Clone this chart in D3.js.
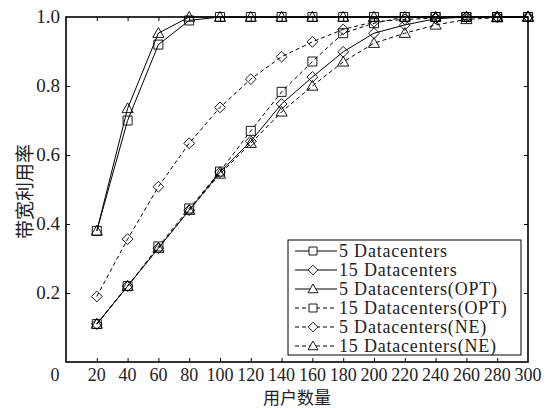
<!DOCTYPE html>
<html>
<head>
<meta charset="utf-8">
<script src="https://cdn.jsdelivr.net/npm/d3@7/dist/d3.min.js"></script>
<style>
  html, body { margin: 0; padding: 0; background: #fff; }
  svg { display: block; }
  .serif { font-family: "Liberation Serif", "Times New Roman", "DejaVu Serif", serif; }
  .cjk { font-family: "Noto Sans CJK SC", "Noto Sans CJK JP", sans-serif; }
</style>
</head>
<body>
<div id="chart"></div>
<script>
// Number of users on the x axis
const users = [20, 40, 60, 80, 100, 120, 140, 160, 180, 200, 220, 240, 260, 280, 300];

// Bandwidth utilisation per configuration
const dc5      = [0.38, 0.70, 0.92, 0.99, 1, 1, 1, 1, 1, 1, 1, 1, 1, 1, 1];
const dc15     = [0.11, 0.22, 0.33, 0.44, 0.55, 0.64, 0.748, 0.826, 0.899, 0.953, 0.977, 0.995, 1, 1, 1];
const dc5Opt   = [0.38, 0.735, 0.953, 1, 1, 1, 1, 1, 1, 1, 1, 1, 1, 1, 1];
const dc15Opt  = [0.11, 0.22, 0.335, 0.445, 0.552, 0.67, 0.783, 0.871, 0.953, 0.982, 1, 1, 1, 1, 1];
const dc5Ne    = [0.19, 0.356, 0.508, 0.634, 0.738, 0.82, 0.885, 0.928, 0.964, 0.986, 0.993, 0.997, 1, 1, 1];
const dc15Ne   = [0.11, 0.22, 0.33, 0.44, 0.545, 0.634, 0.725, 0.80, 0.87, 0.924, 0.953, 0.977, 0.993, 0.998, 1];

const seriesNames = ["5 Datacenters", "15 Datacenters", "5 Datacenters(OPT)",
                     "15 Datacenters(OPT)", "5 Datacenters(NE)", "15 Datacenters(NE)"];
const seriesValues = [dc5, dc15, dc5Opt, dc15Opt, dc5Ne, dc15Ne];
const seriesMarkers = ["square", "diamond", "triangle", "square", "diamond", "triangle"];
const seriesDashed = [false, false, false, true, true, true];

const xTicks = [0, 20, 40, 60, 80, 100, 120, 140, 160, 180, 200, 220, 240, 260, 280, 300];
const yTicks = [0.2, 0.4, 0.6, 0.8, 1.0];

const W = 554, H = 408;
const m = { left: 66, right: 26, top: 17, bottom: 46 };
const pw = W - m.left - m.right, ph = H - m.top - m.bottom;

const svg = d3.select("#chart").append("svg").attr("width", W).attr("height", H);
const g = svg.append("g").attr("transform", `translate(${m.left},${m.top})`);

const x = d3.scaleLinear().domain([0, 300]).range([0, pw]);
const y = d3.scaleLinear().domain([0, 1]).range([ph, 0]);

// Marker path generators centred on 0,0
function markerPath(type, s) {
  if (type === "square") {
    const h = s / 2;
    return `M${-h},${-h}H${h}V${h}H${-h}Z`;
  }
  if (type === "diamond") {
    const h = s * 0.6;
    return `M0,${-h}L${h},0L0,${h}L${-h},0Z`;
  }
  const h = s * 0.62;
  return `M0,${-h}L${h},${h * 0.75}L${-h},${h * 0.75}Z`;
}

// Lines and markers
const line = d3.line().x((d, i) => x(users[i])).y(d => y(d));
seriesValues.forEach((vals, k) => {
  g.append("path")
    .attr("d", line(vals))
    .attr("fill", "none")
    .attr("stroke", "#000")
    .attr("stroke-width", 1)
    .attr("stroke-dasharray", seriesDashed[k] ? "4,3" : null);
  g.selectAll(null).data(vals).enter().append("path")
    .attr("transform", (d, i) => `translate(${x(users[i])},${y(d)})`)
    .attr("d", markerPath(seriesMarkers[k], 9))
    .attr("fill", "none")
    .attr("stroke", "#000")
    .attr("stroke-width", 0.9);
});

// Axes frame with inward ticks on all four sides
const tickLen = 4;
const xInner = xTicks.filter(t => t > 0 && t < 300);
const yInner = yTicks.filter(t => t < 1);

const xBottom = d3.axisBottom(x).tickValues(xInner).tickSize(-tickLen).tickFormat("");
const xTop = d3.axisTop(x).tickValues(xInner).tickSize(-tickLen).tickFormat("");
const yLeft = d3.axisLeft(y).tickValues(yInner).tickSize(-tickLen).tickFormat("");
const yRight = d3.axisRight(y).tickValues(yInner).tickSize(-tickLen).tickFormat("");

g.append("g").attr("transform", `translate(0,${ph})`).call(xBottom);
g.append("g").call(xTop);
g.append("g").call(yLeft);
g.append("g").attr("transform", `translate(${pw},0)`).call(yRight);
g.selectAll(".domain").remove();
g.selectAll(".tick line").attr("stroke", "#000").attr("stroke-width", 1);

g.append("rect").attr("x", 0).attr("y", 0).attr("width", pw).attr("height", ph)
  .attr("fill", "none").attr("stroke", "#000").attr("stroke-width", 1.6);

// Tick labels
g.selectAll(".xl").data(xTicks).enter().append("text")
  .attr("class", "serif")
  .attr("x", d => d === 0 ? x(d) - 11 : x(d))
  .attr("y", ph + 19)
  .attr("text-anchor", "middle")
  .attr("font-size", 18)
  .attr("fill", "#222")
  .text(d => d);

g.selectAll(".yl").data(yTicks).enter().append("text")
  .attr("class", "serif")
  .attr("x", -6)
  .attr("y", d => y(d) + 6)
  .attr("text-anchor", "end")
  .attr("font-size", 19)
  .attr("fill", "#222")
  .text(d => d.toFixed(1));

// Axis titles
svg.append("text")
  .attr("class", "cjk")
  .attr("x", m.left + pw / 2)
  .attr("y", 404)
  .attr("text-anchor", "middle")
  .attr("font-size", 17)
  .attr("fill", "#222")
  .text("用户数量");

svg.append("text")
  .attr("class", "cjk")
  .attr("transform", `translate(32,${m.top + ph / 2 + 2}) rotate(-90)`)
  .attr("text-anchor", "middle")
  .attr("font-size", 19)
  .attr("fill", "#222")
  .text("带宽利用率");

// Legend
const lg = svg.append("g").attr("transform", "translate(288,240)");
lg.append("rect").attr("width", 233).attr("height", 115)
  .attr("fill", "#fff").attr("stroke", "#000").attr("stroke-width", 1);
seriesNames.forEach((name, k) => {
  const cy = 11 + k * 19;
  lg.append("line").attr("x1", 7).attr("x2", 49).attr("y1", cy).attr("y2", cy)
    .attr("stroke", "#000").attr("stroke-width", 1)
    .attr("stroke-dasharray", seriesDashed[k] ? "4,3" : null);
  lg.append("path")
    .attr("transform", `translate(25,${cy})`)
    .attr("d", markerPath(seriesMarkers[k], 8))
    .attr("fill", "#fff").attr("stroke", "#000").attr("stroke-width", 0.9);
  lg.append("text")
    .attr("class", "serif")
    .attr("x", 51).attr("y", cy + 6)
    .attr("font-size", 18)
    .attr("letter-spacing", 0.8)
    .attr("fill", "#222")
    .text(name);
});
</script>
</body>
</html>
